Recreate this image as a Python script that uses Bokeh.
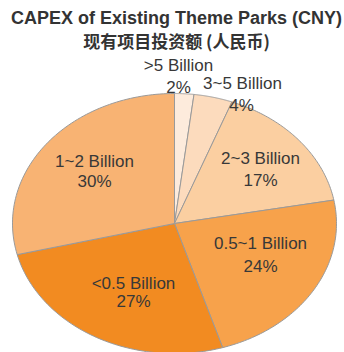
import numpy as np
from bokeh.plotting import figure
from bokeh.models import ColumnDataSource, Label
from bokeh.embed import file_html
from bokeh.resources import INLINE

categories = [">5 Billion", "3~5 Billion", "2~3 Billion", "0.5~1 Billion", "<0.5 Billion", "1~2 Billion"]
shares = [2, 4, 17, 24, 27, 30]
pct_labels = ["2%", "4%", "17%", "24%", "27%", "30%"]
colors = ["#FDEBDC", "#FCDBBD", "#FBCFA1", "#F7A24B", "#F28B21", "#F8B373"]

W, H = 344, 352
p = figure(width=W, height=H, output_backend="svg", toolbar_location=None,
           x_range=(0, W), y_range=(H, 0), min_border=0)
p.axis.visible = False
p.grid.visible = False
p.outline_line_color = None
p.background_fill_color = "white"
p.border_fill_color = "white"

cx, cy, rx, ry = 174, 223, 162, 130
total = sum(shares)
xs, ys = [], []
start = 0.0
for s in shares:
    a0 = start / total * 2 * np.pi
    a1 = (start + s) / total * 2 * np.pi
    t = np.linspace(a0, a1, 80)
    px = [cx] + list(cx + rx * np.sin(t)) + [cx]
    py = [cy] + list(cy - ry * np.cos(t)) + [cy]
    xs.append(px)
    ys.append(py)
    start += s

src = ColumnDataSource(dict(xs=xs, ys=ys, color=colors))
p.patches("xs", "ys", source=src, fill_color="color", line_color="#9a9a9a", line_width=1)

name_pos = [(178, 65), (242, 83), (260, 158), (260, 243), (133, 283), (94, 161)]
pct_pos = [(178, 87), (241, 105), (260, 180), (260, 266), (133, 301), (94, 181)]
for i, c in enumerate(categories):
    nx, ny = name_pos[i]
    p.add_layout(Label(x=nx, y=ny, text=c, text_align="center", text_baseline="middle",
                       text_font="Liberation Sans", text_font_size="17px", text_color="#383838"))
    qx, qy = pct_pos[i]
    p.add_layout(Label(x=qx, y=qy, text=pct_labels[i], text_align="center", text_baseline="middle",
                       text_font="Liberation Sans", text_font_size="17px", text_color="#383838"))

p.add_layout(Label(x=176, y=17, text="CAPEX of Existing Theme Parks (CNY)", text_align="center",
                   text_baseline="middle", text_font="Liberation Sans", text_font_size="18px",
                   text_font_style="bold", text_color="#333333"))
p.add_layout(Label(x=176, y=40, text="现有项目投资额 (人民币)", text_align="center",
                   text_baseline="middle", text_font="Noto Sans CJK SC", text_font_size="17px",
                   text_font_style="bold", text_color="#333333"))

open("out.html", "w").write(file_html(p, INLINE))
